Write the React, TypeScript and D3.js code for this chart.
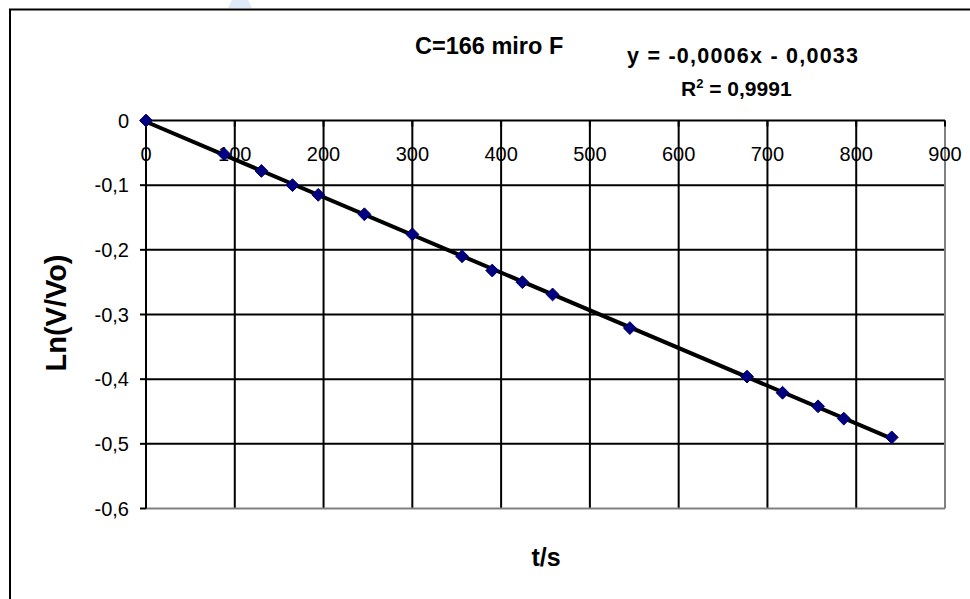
import React from "react";
import * as d3 from "d3";

// measured discharge: time (s) and ln(V/Vo)
const times = [0, 88, 130, 165, 194, 246, 300, 356, 390, 424, 458, 545, 677, 717, 757, 786, 840];
const lnRatio = [0, -0.052, -0.078, -0.1, -0.115, -0.145, -0.176, -0.21, -0.232, -0.25, -0.269, -0.321, -0.396, -0.421, -0.442, -0.461, -0.49];

const xTicks = [0, 100, 200, 300, 400, 500, 600, 700, 800, 900];
const yTicks = [0, -0.1, -0.2, -0.3, -0.4, -0.5, -0.6];

const titleText = "C=166 miro F";
const equationText = "y = -0,0006x - 0,0033";
const r2Value = "0,9991";
const xLabel = "t/s";
const yLabel = "Ln(V/Vo)";

const font = "Liberation Sans, Arial, sans-serif";

const plot = { left: 146, right: 945, top: 120.5, bottom: 508.5 };

const locale = d3.formatLocale({
  decimal: ",",
  thousands: ".",
  grouping: [3],
  currency: ["", ""],
  minus: "-",
});
const fmtY = (d: number) => (d === 0 ? "0" : locale.format(".1f")(d));

const App = () => {
  const x = d3.scaleLinear().domain([0, 900]).range([plot.left, plot.right]);
  const y = d3.scaleLinear().domain([-0.6, 0]).range([plot.bottom, plot.top]);

  // least squares trendline
  const mx = d3.mean(times) as number;
  const my = d3.mean(lnRatio) as number;
  const sxy = d3.sum(times, (t, i) => (t - mx) * (lnRatio[i] - my));
  const sxx = d3.sum(times, (t) => (t - mx) * (t - mx));
  const slope = sxy / sxx;
  const intercept = my - slope * mx;
  const xMin = d3.min(times) as number;
  const xMax = d3.max(times) as number;
  const trend = d3.line<number>()
    .x((t) => x(t))
    .y((t) => y(slope * t + intercept))([xMin, xMax]);

  const diamond = d3.symbol().type(d3.symbolDiamond2).size(105)();

  return (
    <svg width={970} height={599} style={{ position: "absolute", left: 0, top: 0, background: "#fff" }}>
      <rect x={0} y={0} width={970} height={599} fill="#fff" />
      {/* faint watermark corner */}
      <polygon points="232,0 248,0 252,8 228,8" fill="#dfe9f7" />
      {/* outer chart border */}
      <rect x={10} y={9.5} width={990} height={620} fill="none" stroke="#000" strokeWidth={2} />

      {/* grid */}
      <g>
        {yTicks.filter((d) => d !== 0 && d !== -0.6).map((d) => (
          <line key={"gy" + d} x1={plot.left} x2={plot.right} y1={y(d)} y2={y(d)} stroke="#000" strokeWidth={2} />
        ))}
        {xTicks.filter((d) => d !== 0 && d !== 900).map((d) => (
          <line key={"gx" + d} x1={x(d)} x2={x(d)} y1={plot.top} y2={plot.bottom} stroke="#000" strokeWidth={2} />
        ))}
        {/* plot area frame */}
        <line x1={plot.right} x2={plot.right} y1={plot.top} y2={plot.bottom} stroke="#808080" strokeWidth={2} />
        <line x1={plot.left} x2={plot.right} y1={plot.bottom} y2={plot.bottom} stroke="#808080" strokeWidth={2} />
      </g>

      {/* axes */}
      <g>
        <line x1={x(0)} x2={x(0)} y1={plot.top} y2={plot.bottom} stroke="#000" strokeWidth={2} />
        <line x1={plot.left} x2={plot.right} y1={y(0)} y2={y(0)} stroke="#000" strokeWidth={2} />
        {yTicks.map((d) => (
          <line key={"ty" + d} x1={plot.left - 6} x2={plot.left} y1={y(d)} y2={y(d)} stroke="#000" strokeWidth={2} />
        ))}
        {xTicks.map((d) => (
          <line key={"tx" + d} x1={x(d)} x2={x(d)} y1={y(0)} y2={y(0) + 6} stroke="#000" strokeWidth={2} />
        ))}
        {yTicks.map((d) => (
          <text key={"ly" + d} x={plot.left - 17} y={y(d)} dy="0.35em" textAnchor="end" fontFamily={font} fontSize={20} fill="#000">
            {fmtY(d)}
          </text>
        ))}
        {xTicks.map((d) => (
          <text key={"lx" + d} x={x(d)} y={y(0) + 40} textAnchor="middle" fontFamily={font} fontSize={20} fill="#000">
            {d}
          </text>
        ))}
      </g>

      {/* trendline */}
      <path d={trend ?? ""} fill="none" stroke="#000" strokeWidth={4} />

      {/* data points */}
      <g>
        {times.map((t, i) => (
          <path key={"p" + i} d={diamond ?? ""} transform={`translate(${x(t)},${y(lnRatio[i])})`} fill="#000080" stroke="#000066" strokeWidth={1} />
        ))}
      </g>

      {/* titles */}
      <text x={415} y={54} fontFamily={font} fontSize={23.5} fontWeight="bold" fill="#000">{titleText}</text>
      <text x={627} y={63} fontFamily={font} fontSize={21.5} fontWeight="bold" fill="#000" textLength={231} lengthAdjust="spacing">{equationText}</text>
      <text x={681} y={96} fontFamily={font} fontSize={21} fontWeight="bold" fill="#000">
        R<tspan dy={-8} fontSize={13}>2</tspan><tspan dy={8}>{" = " + r2Value}</tspan>
      </text>
      <text x={546} y={566} textAnchor="middle" fontFamily={font} fontSize={25} fontWeight="bold" fill="#000">{xLabel}</text>
      <text transform="translate(66,313) rotate(-90)" textAnchor="middle" fontFamily={font} fontSize={29} fontWeight="bold" fill="#000">{yLabel}</text>
    </svg>
  );
};

export default App;
